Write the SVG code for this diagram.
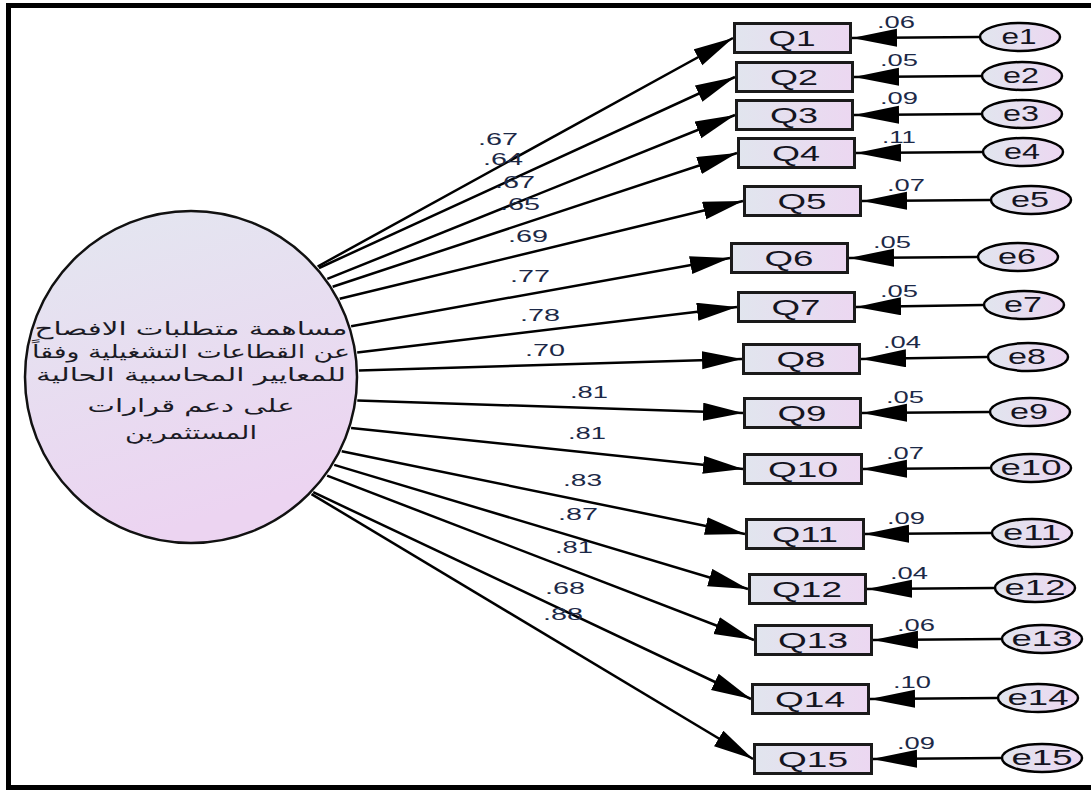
<svg xmlns="http://www.w3.org/2000/svg" width="1091" height="794" viewBox="0 0 1091 794">
  <defs>
    <linearGradient id="boxFill" x1="0" y1="0" x2="1" y2="0">
      <stop offset="0" stop-color="#e1e5ee"/>
      <stop offset="1" stop-color="#ecd7f1"/>
    </linearGradient>
    <linearGradient id="latentFill" x1="0" y1="0" x2="0.3" y2="1">
      <stop offset="0" stop-color="#e3e7f0"/>
      <stop offset="1" stop-color="#ecd4f1"/>
    </linearGradient>
    <marker id="headLoad" markerUnits="userSpaceOnUse" markerWidth="42" markerHeight="19" refX="40" refY="9" orient="auto">
      <path d="M0,0 L40,9 L0,18 Z" fill="#000"/>
    </marker>
    <marker id="headErr" markerUnits="userSpaceOnUse" markerWidth="47" markerHeight="19" refX="45" refY="9" orient="auto">
      <path d="M0,0 L45,9 L0,18 Z" fill="#000"/>
    </marker>
  </defs>
  <style>
    .frame { fill: none; stroke: #000; stroke-width: 5; }
    .box { fill: url(#boxFill); stroke: #1a1a1a; stroke-width: 3; }
    .err { fill: url(#boxFill); stroke: #000; stroke-width: 2.5; }
    .latent { fill: url(#latentFill); stroke: #111; stroke-width: 2.5; }
    .load { stroke: #000; stroke-width: 2.5; fill: none; marker-end: url(#headLoad); }
    .eline { stroke: #000; stroke-width: 2.5; fill: none; marker-end: url(#headErr); }
    .var { font-family: "Liberation Sans", Arial, sans-serif; font-size: 22px; fill: #14141f; text-anchor: middle; }
    .coef { font-family: "Liberation Sans", Arial, sans-serif; font-size: 16px; fill: #1c2947; }
    .ar { font-family: "DejaVu Sans", "Noto Sans", sans-serif; font-size: 18px; fill: #1b1b25; text-anchor: middle; }
  </style>

  <rect width="1091" height="794" fill="#fff"/>
  <!-- outer frame: top, left and bottom edges -->
  <path class="frame" d="M1091,5.5 H8.5 V787.5 H1091"/>

  <!-- latent factor -->
  <g id="F1">
    <circle class="latent" cx="191" cy="377" r="166"/>
    <text class="ar" x="191" y="335" textLength="313" lengthAdjust="spacingAndGlyphs">مساهمة متطلبات الافصاح</text>
    <text class="ar" x="191" y="358" textLength="318" lengthAdjust="spacingAndGlyphs">عن القطاعات التشغيلية وفقاً</text>
    <text class="ar" x="191" y="381" textLength="310" lengthAdjust="spacingAndGlyphs">للمعايير المحاسبية الحالية</text>
    <text class="ar" x="191" y="412" textLength="207" lengthAdjust="spacingAndGlyphs">على دعم قرارات</text>
    <text class="ar" x="191" y="439" textLength="132" lengthAdjust="spacingAndGlyphs">المستثمرين</text>
  </g>

  <!-- paths: factor loadings and error terms -->
  <g id="connectors">
    <line class="load" x1="317.6" y1="266.5" x2="733" y2="38"/>
    <line class="load" x1="319" y1="268" x2="735" y2="77"/>
    <line class="load" x1="327.3" y1="278.9" x2="735" y2="115"/>
    <line class="load" x1="332.7" y1="286.7" x2="737" y2="153"/>
    <line class="load" x1="339.7" y1="298.8" x2="743" y2="201"/>
    <line class="load" x1="351.1" y1="326.2" x2="730" y2="258"/>
    <line class="load" x1="357.2" y1="352.6" x2="737" y2="307"/>
    <line class="load" x1="358.9" y1="370.5" x2="742" y2="359"/>
    <line class="load" x1="357.3" y1="400.4" x2="743" y2="413"/>
    <line class="load" x1="351.1" y1="427.9" x2="743" y2="469"/>
    <line class="load" x1="341.7" y1="451.3" x2="745" y2="534"/>
    <line class="load" x1="334.2" y1="464.9" x2="748" y2="589"/>
    <line class="load" x1="327.1" y1="475.6" x2="754" y2="640"/>
    <line class="load" x1="313.2" y1="492.2" x2="751" y2="699"/>
    <line class="load" x1="311.5" y1="494.1" x2="753" y2="759"/>

    <line class="eline" x1="979" y1="37" x2="852" y2="38"/>
    <line class="eline" x1="981" y1="76" x2="854" y2="77"/>
    <line class="eline" x1="981" y1="114" x2="854" y2="115"/>
    <line class="eline" x1="982" y1="152" x2="856" y2="153"/>
    <line class="eline" x1="990" y1="200" x2="862" y2="201"/>
    <line class="eline" x1="977" y1="257" x2="849" y2="258"/>
    <line class="eline" x1="983" y1="305" x2="856" y2="307"/>
    <line class="eline" x1="987" y1="357" x2="861" y2="359"/>
    <line class="eline" x1="989" y1="412" x2="862" y2="413"/>
    <line class="eline" x1="990" y1="468" x2="862" y2="469"/>
    <line class="eline" x1="991" y1="533" x2="864" y2="534"/>
    <line class="eline" x1="994" y1="588" x2="867" y2="589"/>
    <line class="eline" x1="1001" y1="639" x2="873" y2="640"/>
    <line class="eline" x1="997" y1="698" x2="870" y2="699"/>
    <line class="eline" x1="1001" y1="758" x2="872" y2="759"/>
  </g>

  <!-- loading estimates -->
  <g id="loadings">
    <text class="coef" x="478" y="145" textLength="40" lengthAdjust="spacingAndGlyphs">.67</text>
    <text class="coef" x="483" y="165" textLength="40" lengthAdjust="spacingAndGlyphs">.64</text>
    <text class="coef" x="495" y="188" textLength="40" lengthAdjust="spacingAndGlyphs">.67</text>
    <text class="coef" x="500" y="210" textLength="40" lengthAdjust="spacingAndGlyphs">.65</text>
    <text class="coef" x="508" y="242" textLength="40" lengthAdjust="spacingAndGlyphs">.69</text>
    <text class="coef" x="510" y="282" textLength="40" lengthAdjust="spacingAndGlyphs">.77</text>
    <text class="coef" x="520" y="321" textLength="40" lengthAdjust="spacingAndGlyphs">.78</text>
    <text class="coef" x="525" y="356" textLength="40" lengthAdjust="spacingAndGlyphs">.70</text>
    <text class="coef" x="570" y="398" textLength="38" lengthAdjust="spacingAndGlyphs">.81</text>
    <text class="coef" x="568" y="439" textLength="38" lengthAdjust="spacingAndGlyphs">.81</text>
    <text class="coef" x="563" y="486" textLength="39" lengthAdjust="spacingAndGlyphs">.83</text>
    <text class="coef" x="558" y="520" textLength="40" lengthAdjust="spacingAndGlyphs">.87</text>
    <text class="coef" x="555" y="553" textLength="38" lengthAdjust="spacingAndGlyphs">.81</text>
    <text class="coef" x="545" y="594" textLength="40" lengthAdjust="spacingAndGlyphs">.68</text>
    <text class="coef" x="543" y="620" textLength="40" lengthAdjust="spacingAndGlyphs">.88</text>
  </g>

  <!-- error variances -->
  <g id="variances">
    <text class="coef" x="877" y="28" textLength="38" lengthAdjust="spacingAndGlyphs">.06</text>
    <text class="coef" x="880" y="66" textLength="38" lengthAdjust="spacingAndGlyphs">.05</text>
    <text class="coef" x="880" y="104" textLength="38" lengthAdjust="spacingAndGlyphs">.09</text>
    <text class="coef" x="882" y="143" textLength="34" lengthAdjust="spacingAndGlyphs">.11</text>
    <text class="coef" x="887" y="191" textLength="38" lengthAdjust="spacingAndGlyphs">.07</text>
    <text class="coef" x="873" y="248" textLength="38" lengthAdjust="spacingAndGlyphs">.05</text>
    <text class="coef" x="880" y="297" textLength="38" lengthAdjust="spacingAndGlyphs">.05</text>
    <text class="coef" x="883" y="348" textLength="38" lengthAdjust="spacingAndGlyphs">.04</text>
    <text class="coef" x="886" y="403" textLength="38" lengthAdjust="spacingAndGlyphs">.05</text>
    <text class="coef" x="886" y="459" textLength="38" lengthAdjust="spacingAndGlyphs">.07</text>
    <text class="coef" x="887" y="524" textLength="38" lengthAdjust="spacingAndGlyphs">.09</text>
    <text class="coef" x="890" y="579" textLength="38" lengthAdjust="spacingAndGlyphs">.04</text>
    <text class="coef" x="897" y="631" textLength="38" lengthAdjust="spacingAndGlyphs">.06</text>
    <text class="coef" x="893" y="688" textLength="38" lengthAdjust="spacingAndGlyphs">.10</text>
    <text class="coef" x="897" y="749" textLength="38" lengthAdjust="spacingAndGlyphs">.09</text>
  </g>

  <!-- observed indicators -->
  <g id="Q1"><rect class="box" x="734.5" y="23.5" width="116" height="29"/><text class="var" x="792" y="46" textLength="47" lengthAdjust="spacingAndGlyphs">Q1</text></g>
  <g id="Q2"><rect class="box" x="736.5" y="62.5" width="116" height="29"/><text class="var" x="794" y="85" textLength="48" lengthAdjust="spacingAndGlyphs">Q2</text></g>
  <g id="Q3"><rect class="box" x="736.5" y="100.5" width="116" height="29"/><text class="var" x="794" y="123" textLength="48" lengthAdjust="spacingAndGlyphs">Q3</text></g>
  <g id="Q4"><rect class="box" x="738.5" y="138.5" width="116" height="29"/><text class="var" x="796" y="161" textLength="48" lengthAdjust="spacingAndGlyphs">Q4</text></g>
  <g id="Q5"><rect class="box" x="744.5" y="186.5" width="116" height="29"/><text class="var" x="802" y="209" textLength="49" lengthAdjust="spacingAndGlyphs">Q5</text></g>
  <g id="Q6"><rect class="box" x="731.5" y="243.5" width="116" height="29"/><text class="var" x="789" y="266" textLength="49" lengthAdjust="spacingAndGlyphs">Q6</text></g>
  <g id="Q7"><rect class="box" x="738.5" y="292.5" width="116" height="29"/><text class="var" x="796" y="315" textLength="49" lengthAdjust="spacingAndGlyphs">Q7</text></g>
  <g id="Q8"><rect class="box" x="743.5" y="344.5" width="116" height="29"/><text class="var" x="801" y="367" textLength="49" lengthAdjust="spacingAndGlyphs">Q8</text></g>
  <g id="Q9"><rect class="box" x="744.5" y="398.5" width="116" height="29"/><text class="var" x="802" y="421" textLength="49" lengthAdjust="spacingAndGlyphs">Q9</text></g>
  <g id="Q10"><rect class="box" x="744.5" y="454.5" width="117" height="29"/><text class="var" x="803" y="477" textLength="70" lengthAdjust="spacingAndGlyphs">Q10</text></g>
  <g id="Q11"><rect class="box" x="746.5" y="519.5" width="117" height="29"/><text class="var" x="805" y="542" textLength="66" lengthAdjust="spacingAndGlyphs">Q11</text></g>
  <g id="Q12"><rect class="box" x="749.5" y="574.5" width="116" height="29"/><text class="var" x="807" y="597" textLength="70" lengthAdjust="spacingAndGlyphs">Q12</text></g>
  <g id="Q13"><rect class="box" x="755.5" y="625.5" width="116" height="29"/><text class="var" x="813" y="648" textLength="70" lengthAdjust="spacingAndGlyphs">Q13</text></g>
  <g id="Q14"><rect class="box" x="752.5" y="684.5" width="116" height="29"/><text class="var" x="810" y="707" textLength="70" lengthAdjust="spacingAndGlyphs">Q14</text></g>
  <g id="Q15"><rect class="box" x="754.5" y="744.5" width="117" height="29"/><text class="var" x="813" y="767" textLength="70" lengthAdjust="spacingAndGlyphs">Q15</text></g>

  <!-- error terms -->
  <g id="e1"><ellipse class="err" cx="1020" cy="37" rx="40" ry="14"/><text class="var" x="1019" y="44" textLength="35" lengthAdjust="spacingAndGlyphs">e1</text></g>
  <g id="e2"><ellipse class="err" cx="1022" cy="76" rx="40" ry="14"/><text class="var" x="1021" y="83" textLength="36" lengthAdjust="spacingAndGlyphs">e2</text></g>
  <g id="e3"><ellipse class="err" cx="1022" cy="114" rx="40" ry="14"/><text class="var" x="1021" y="121" textLength="36" lengthAdjust="spacingAndGlyphs">e3</text></g>
  <g id="e4"><ellipse class="err" cx="1023" cy="152" rx="40" ry="14"/><text class="var" x="1022" y="159" textLength="36" lengthAdjust="spacingAndGlyphs">e4</text></g>
  <g id="e5"><ellipse class="err" cx="1031" cy="200" rx="40" ry="14"/><text class="var" x="1030" y="207" textLength="38" lengthAdjust="spacingAndGlyphs">e5</text></g>
  <g id="e6"><ellipse class="err" cx="1018" cy="257" rx="40" ry="14"/><text class="var" x="1017" y="264" textLength="38" lengthAdjust="spacingAndGlyphs">e6</text></g>
  <g id="e7"><ellipse class="err" cx="1024" cy="305" rx="40" ry="14"/><text class="var" x="1023" y="312" textLength="38" lengthAdjust="spacingAndGlyphs">e7</text></g>
  <g id="e8"><ellipse class="err" cx="1028" cy="357" rx="40" ry="14"/><text class="var" x="1027" y="364" textLength="38" lengthAdjust="spacingAndGlyphs">e8</text></g>
  <g id="e9"><ellipse class="err" cx="1030" cy="412" rx="40" ry="14"/><text class="var" x="1029" y="419" textLength="38" lengthAdjust="spacingAndGlyphs">e9</text></g>
  <g id="e10"><ellipse class="err" cx="1031" cy="468" rx="40" ry="14"/><text class="var" x="1031" y="475" textLength="61" lengthAdjust="spacingAndGlyphs">e10</text></g>
  <g id="e11"><ellipse class="err" cx="1032" cy="533" rx="40" ry="14"/><text class="var" x="1032" y="540" textLength="58" lengthAdjust="spacingAndGlyphs">e11</text></g>
  <g id="e12"><ellipse class="err" cx="1035" cy="588" rx="40" ry="14"/><text class="var" x="1035" y="595" textLength="61" lengthAdjust="spacingAndGlyphs">e12</text></g>
  <g id="e13"><ellipse class="err" cx="1042" cy="639" rx="40" ry="14"/><text class="var" x="1042" y="646" textLength="61" lengthAdjust="spacingAndGlyphs">e13</text></g>
  <g id="e14"><ellipse class="err" cx="1038" cy="698" rx="40" ry="14"/><text class="var" x="1038" y="705" textLength="61" lengthAdjust="spacingAndGlyphs">e14</text></g>
  <g id="e15"><ellipse class="err" cx="1042" cy="758" rx="40" ry="14"/><text class="var" x="1042" y="765" textLength="61" lengthAdjust="spacingAndGlyphs">e15</text></g>
</svg>
